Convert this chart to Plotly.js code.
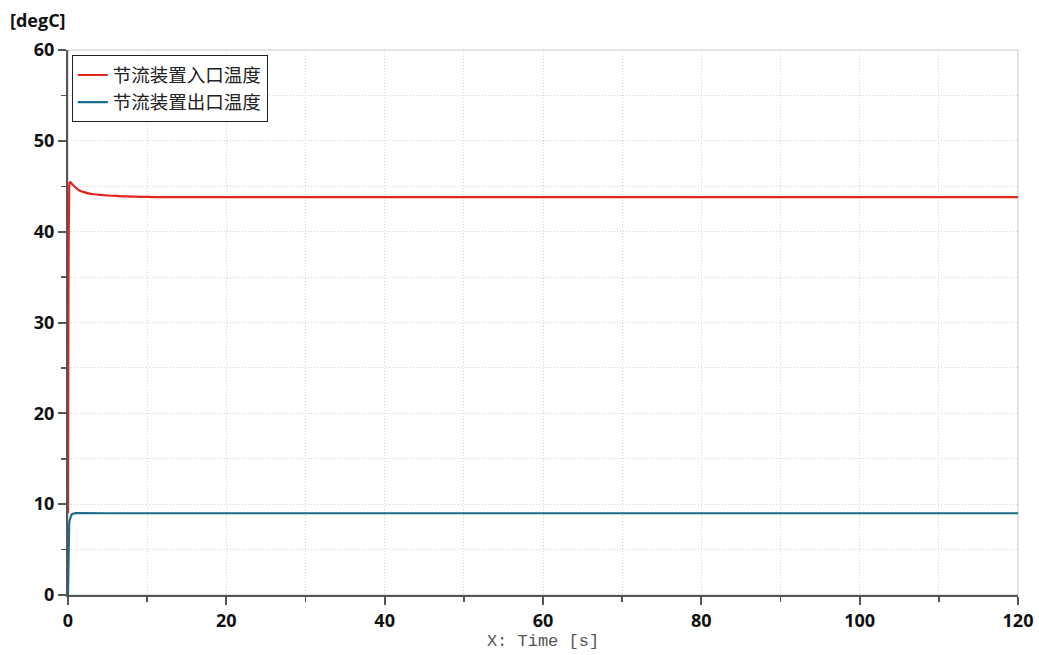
<!DOCTYPE html>
<html><head><meta charset="utf-8">
<script src="https://cdn.plot.ly/plotly-3.0.1.min.js"></script>
<style>html,body{margin:0;padding:0;background:#fff}#chart{width:1039px;height:655px}</style>
</head><body><div id="chart"></div>
<script>
const seriesNames = ["节流装置入口温度", "节流装置出口温度"];
const timeIn = [0, 0.03, 0.06, 0.1, 0.15, 0.2, 0.3, 0.5, 0.8, 1.1, 1.5, 2.0, 2.6, 3.3, 4.0, 5.0, 6.0, 7.0, 8.0, 9.0, 10, 12, 15, 20, 40, 60, 80, 100, 120];
const tempIn = [9, 22, 33, 40, 44, 45.4, 45.45, 45.25, 45.0, 44.75, 44.5, 44.35, 44.22, 44.12, 44.05, 43.98, 43.93, 43.89, 43.86, 43.84, 43.82, 43.8, 43.8, 43.8, 43.8, 43.8, 43.8, 43.8, 43.8];
const timeOut = [0, 0.03, 0.06, 0.1, 0.15, 0.2, 0.3, 0.45, 0.6, 0.8, 1.0, 1.5, 2, 3, 5, 10, 20, 40, 60, 80, 100, 120];
const tempOut = [0, 3.5, 5.8, 7.0, 7.8, 8.2, 8.6, 8.85, 8.95, 9.0, 9.02, 9.02, 9.01, 9.0, 9.0, 9.0, 9.0, 9.0, 9.0, 9.0, 9.0, 9.0];
const xTicks = [0, 20, 40, 60, 80, 100, 120];
const yTicks = [0, 10, 20, 30, 40, 50, 60];
const yUnit = "[degC]";
const xTitle = "X: Time [s]";

const traces = [
  {x: timeIn, y: tempIn, name: seriesNames[0], mode: "lines", line: {color: "#e3241f", width: 2.2, shape: "spline", smoothing: 0.6}},
  {x: timeOut, y: tempOut, name: seriesNames[1], mode: "lines", line: {color: "#1c6b8a", width: 2.2}}
];
const tickFont = {family: "'Open Sans', 'Noto Sans', sans-serif", size: 18, color: "#111", weight: 700};
const gridDash = "1px,2px";
const layout = {
  width: 1039, height: 655,
  margin: {l: 68, r: 21, t: 50, b: 60},
  paper_bgcolor: "#fff", plot_bgcolor: "#fff",
  showlegend: true,
  legend: {x: 0.004, y: 0.99, xanchor: "left", yanchor: "top", bgcolor: "#fff", bordercolor: "#222", borderwidth: 1,
    font: {family: "'Noto Sans CJK SC', sans-serif", size: 18.5, color: "#222"}, tracegroupgap: 0},
  xaxis: {range: [0, 120], tickvals: xTicks, ticktext: xTicks.map(String), ticks: "outside", ticklen: 8, tickwidth: 2, tickcolor: "#555",
    showline: true, linecolor: "#555", linewidth: 2, zeroline: false,
    showgrid: true, gridcolor: "#d4d4d4", griddash: gridDash, gridwidth: 1,
    minor: {dtick: 10, tick0: 0, ticks: "outside", ticklen: 5, tickwidth: 1.5, tickcolor: "#555", showgrid: true, gridcolor: "#d4d4d4", griddash: gridDash},
    tickfont: tickFont, fixedrange: true,
    title: {text: xTitle, font: {family: "'Liberation Mono', 'DejaVu Sans Mono', monospace", size: 17, color: "#555"}, standoff: 2}},
  yaxis: {range: [0, 60], tickvals: yTicks, ticktext: yTicks.map(String), ticks: "outside", ticklen: 8, tickwidth: 2, tickcolor: "#555",
    showline: true, linecolor: "#555", linewidth: 2, zeroline: false,
    showgrid: true, gridcolor: "#d4d4d4", griddash: gridDash, gridwidth: 1,
    minor: {dtick: 5, tick0: 0, ticks: "outside", ticklen: 5, tickwidth: 1.5, tickcolor: "#555", showgrid: true, gridcolor: "#d4d4d4", griddash: gridDash},
    tickfont: tickFont, fixedrange: true},
  shapes: [{type: "rect", xref: "paper", yref: "paper", x0: 0, x1: 1, y0: 0, y1: 1, line: {color: "#c8c8c8", width: 1}, layer: "below"}],
  annotations: [{text: yUnit, xref: "paper", yref: "paper", x: -0.063, y: 1.03, xanchor: "left", yanchor: "bottom", showarrow: false,
    font: {family: "'Open Sans', 'Noto Sans', sans-serif", size: 18, color: "#111", weight: 700}}]
};
Plotly.newPlot("chart", traces, layout, {displayModeBar: false, staticPlot: true});
</script></body></html>
